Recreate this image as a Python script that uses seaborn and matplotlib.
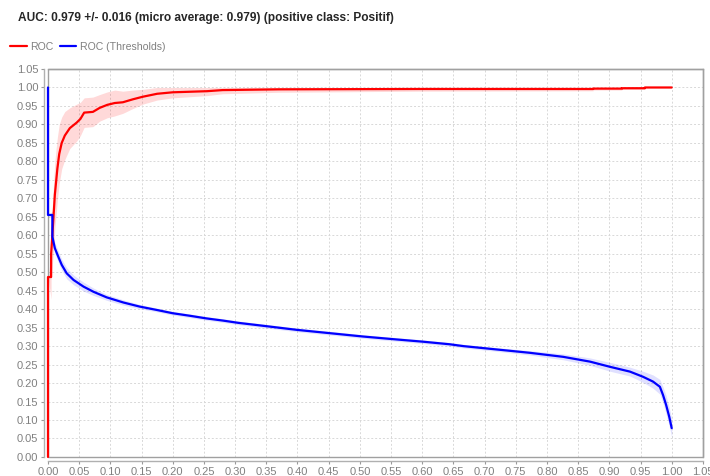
import numpy as np
import pandas as pd
import matplotlib
matplotlib.use("Agg")
import matplotlib.pyplot as plt
import seaborn as sns
from matplotlib.lines import Line2D
from matplotlib.patches import Rectangle

# ROC curve (false positive rate vs true positive rate) and its std band
roc_fpr = [0.0, 0.0, 0.005, 0.005, 0.007, 0.009, 0.011, 0.013, 0.015, 0.018,
           0.022, 0.027, 0.035, 0.046, 0.052, 0.058, 0.072, 0.083, 0.095, 0.107,
           0.12, 0.136, 0.152, 0.175, 0.2, 0.255, 0.28, 0.37, 0.6, 0.874,
           0.874, 0.92, 0.92, 0.957, 0.957, 1.0]
roc_tpr = [0.0, 0.487, 0.487, 0.55, 0.60, 0.655, 0.71, 0.745, 0.78, 0.82,
           0.85, 0.87, 0.89, 0.905, 0.915, 0.932, 0.934, 0.945, 0.953, 0.958,
           0.96, 0.968, 0.975, 0.983, 0.987, 0.99, 0.993, 0.995, 0.996, 0.996,
           0.997, 0.997, 0.998, 0.998, 1.0, 1.0]
roc_std = [0.0, 0.0, 0.06, 0.07, 0.08, 0.09, 0.09, 0.09, 0.085, 0.08,
           0.07, 0.065, 0.055, 0.05, 0.045, 0.04, 0.04, 0.036, 0.035, 0.035,
           0.03, 0.025, 0.02, 0.017, 0.015, 0.012, 0.01, 0.008, 0.006, 0.005,
           0.004, 0.004, 0.003, 0.003, 0.0, 0.0]

# threshold curve (false positive rate vs threshold) and its std band
thr_fpr = [0.0, 0.0, 0.007, 0.007, 0.011, 0.0165, 0.022, 0.030, 0.041, 0.057,
           0.073, 0.094, 0.121, 0.147, 0.174, 0.2, 0.228, 0.254, 0.281, 0.305,
           0.35, 0.399, 0.452, 0.505, 0.559, 0.601, 0.644, 0.666, 0.719, 0.772,
           0.826, 0.869, 0.901, 0.933, 0.954, 0.970, 0.981, 0.986, 0.991, 0.996, 1.0]
thr_val = [1.0, 0.655, 0.655, 0.596, 0.565, 0.542, 0.52, 0.497, 0.479, 0.461,
           0.447, 0.432, 0.418, 0.407, 0.398, 0.389, 0.382, 0.375, 0.369, 0.363,
           0.354, 0.344, 0.335, 0.326, 0.318, 0.312, 0.305, 0.300, 0.291, 0.282,
           0.271, 0.258, 0.244, 0.231, 0.217, 0.204, 0.19, 0.168, 0.141, 0.109, 0.078]
thr_std = [0.0, 0.0, 0.01, 0.015, 0.015, 0.015, 0.015, 0.015, 0.013, 0.012,
           0.01, 0.008, 0.007, 0.006, 0.005, 0.005, 0.005, 0.005, 0.005, 0.005,
           0.005, 0.005, 0.005, 0.005, 0.005, 0.005, 0.005, 0.005, 0.005, 0.006,
           0.008, 0.01, 0.012, 0.012, 0.015, 0.018, 0.02, 0.022, 0.025, 0.025, 0.025]

title = "AUC: 0.979 +/- 0.016 (micro average: 0.979) (positive class: Positif)"
ticks = np.round(np.arange(0, 1.0501, 0.05), 2)

sns.set_style("white")
plt.rcParams['font.family'] = ['Liberation Sans', 'DejaVu Sans']

roc = pd.DataFrame({"fpr": roc_fpr, "tpr": roc_tpr, "sd": roc_std})
thr = pd.DataFrame({"fpr": thr_fpr, "thr": thr_val, "sd": thr_std})

fig = plt.figure(figsize=(7.1, 4.76), dpi=100)
ax = fig.add_axes([0.0676, 0.040, 0.9224, 0.815])

ax.fill_between(roc["fpr"], roc["tpr"] - roc["sd"], np.minimum(roc["tpr"] + roc["sd"], 1.0),
                color="#ff0000", alpha=0.15, linewidth=0)
ax.fill_between(thr["fpr"], thr["thr"] - thr["sd"], thr["thr"] + thr["sd"],
                color="#0000ff", alpha=0.12, linewidth=0)
sns.lineplot(data=roc, x="fpr", y="tpr", sort=False, estimator=None,
             color="#ff0000", linewidth=1.6, ax=ax)
sns.lineplot(data=thr, x="fpr", y="thr", sort=False, estimator=None,
             color="#0000ff", linewidth=1.6, ax=ax)
for ln in ax.lines:
    ln.set_clip_on(False)
    ln.set_zorder(4)

ax.set_xlim(0, 1.05)
ax.set_ylim(0, 1.05)
ax.set_xticks(ticks)
ax.set_yticks(ticks)
ax.set_xticklabels([f"{t:.2f}" for t in ticks])
ax.set_yticklabels([f"{t:.2f}" for t in ticks])
ax.set_xlabel("")
ax.set_ylabel("")
ax.grid(True, color="#d8d8d8", linestyle=(0, (2, 2)), linewidth=0.7)
ax.set_axisbelow(True)
ax.tick_params(colors="#999999", labelcolor="#808080", labelsize=8,
               length=2, width=0.8, pad=2, left=True, bottom=True)

# axis lines offset from the plot box
for side in ["left", "bottom"]:
    ax.spines[side].set_position(("outward", 3))
    ax.spines[side].set_color("#b0b0b0")
    ax.spines[side].set_linewidth(1.0)
for side in ["top", "right"]:
    ax.spines[side].set_color("#a0a0a0")
    ax.spines[side].set_linewidth(1.0)
ax.add_patch(Rectangle((0, 0), 1, 1, transform=ax.transAxes, fill=False,
                       edgecolor="#a0a0a0", linewidth=1.0, clip_on=False, zorder=3))

fig.text(0.025, 0.962, title, fontsize=8.6, fontweight="bold", va="center", ha="left")

handles = [Line2D([], [], color="#ff0000", linewidth=1.6),
           Line2D([], [], color="#0000ff", linewidth=1.6)]
fig.legend(handles, ["ROC", "ROC (Thresholds)"], loc="center left",
           bbox_to_anchor=(0.008, 0.902), ncol=2, frameon=False, fontsize=7.6,
           labelcolor="#808080", handlelength=1.6, handletextpad=0.3,
           columnspacing=0.6, borderaxespad=0)

fig.savefig("out.png", dpi=100)
